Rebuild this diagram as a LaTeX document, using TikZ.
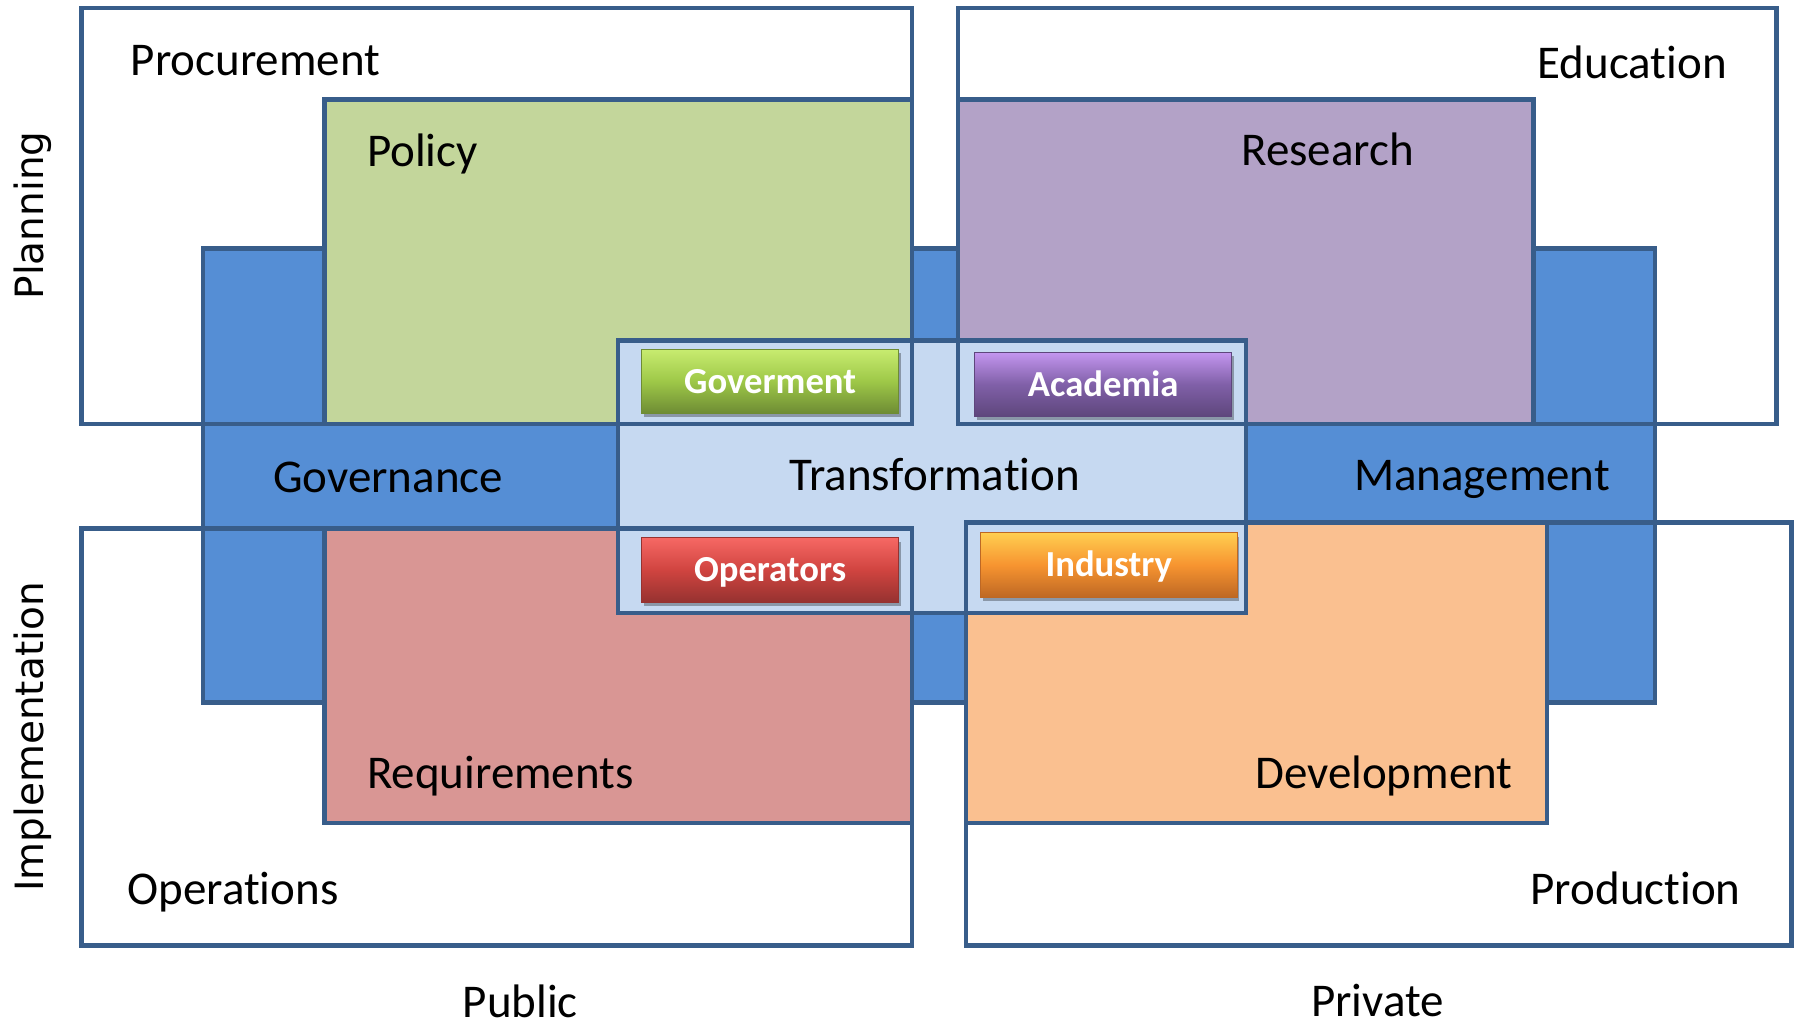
\documentclass[tikz,border=0pt]{standalone}
\usepackage{fontspec}
\setmainfont{Carlito}[Ligatures=NoCommon]
\newfontfamily\axisfont{DejaVu Sans}
\usepackage{tikz}

\definecolor{edgeblue}{RGB}{56,93,138}
\definecolor{bandblue}{RGB}{85,142,213}
\definecolor{paleblue}{RGB}{198,217,241}
\definecolor{policygreen}{RGB}{195,214,155}
\definecolor{researchlilac}{RGB}{179,162,199}
\definecolor{reqpink}{RGB}{217,150,148}
\definecolor{devpeach}{RGB}{250,192,144}
\definecolor{govtop}{RGB}{200,236,112}
\definecolor{govmid}{RGB}{158,200,72}
\definecolor{govbot}{RGB}{110,140,52}
\definecolor{acatop}{RGB}{196,150,240}
\definecolor{acamid}{RGB}{128,96,168}
\definecolor{acabot}{RGB}{94,70,124}
\definecolor{optop}{RGB}{246,104,100}
\definecolor{opmid}{RGB}{208,68,64}
\definecolor{opbot}{RGB}{150,50,48}
\definecolor{indtop}{RGB}{255,206,80}
\definecolor{indmid}{RGB}{247,148,48}
\definecolor{indbot}{RGB}{190,104,36}

\tikzset{
  quadlbl/.style={font=\fontsize{30.75}{36}\selectfont, inner sep=0pt},
  axislbl/.style={font=\axisfont\fontsize{25.5}{30}\selectfont, inner sep=0pt, rotate=90, anchor=base},
  actorbtn/.style={minimum width=168pt, minimum height=42pt, inner sep=0pt, text height=15.5pt, text depth=0pt,
    text=white, font=\bfseries\fontsize{24}{28}\selectfont, line width=0.6pt,
    preaction={fill=black, opacity=0.3, transform canvas={xshift=1.5pt, yshift=-2.5pt}}},
}

\begin{document}
\begin{tikzpicture}[x=0.75pt,y=0.75pt,yscale=-1,xscale=1]
\useasboundingbox (0,0) rectangle (1568,895);

%Shape: Rectangle [band]
\draw [line width=2.9, draw=edgeblue, fill=bandblue] (177,217) -- (1444,217) -- (1444,613) -- (177,613) -- cycle ;
%Shape: Rectangle [policy]
\draw [line width=2.9, draw=edgeblue, fill=policygreen] (283,87) -- (796,87) -- (796,370) -- (283,370) -- cycle ;
%Shape: Rectangle [research]
\draw [line width=2.9, draw=edgeblue, fill=researchlilac] (836,87) -- (1338,87) -- (1338,370) -- (836,370) -- cycle ;
%Shape: Rectangle [requirements]
\draw [line width=2.9, draw=edgeblue, fill=reqpink] (283,461) -- (796,461) -- (796,718) -- (283,718) -- cycle ;
%Shape: Rectangle [development]
\draw [line width=2.9, draw=edgeblue, fill=devpeach] (843,456) -- (1350,456) -- (1350,718) -- (843,718) -- cycle ;
%Shape: Rectangle [transformation]
\draw [line width=2.9, draw=edgeblue, fill=paleblue] (539,297) -- (1087,297) -- (1087,535) -- (539,535) -- cycle ;

%Shape: Rectangle [procurement]
\draw [line width=2.9, draw=edgeblue] (71,7) -- (796,7) -- (796,370) -- (71,370) -- cycle ;
%Shape: Rectangle [education]
\draw [line width=2.9, draw=edgeblue] (836,7) -- (1550,7) -- (1550,370) -- (836,370) -- cycle ;
%Shape: Rectangle [operations]
\draw [line width=2.9, draw=edgeblue] (71,461) -- (796,461) -- (796,825) -- (71,825) -- cycle ;
%Shape: Rectangle [production]
\draw [line width=2.9, draw=edgeblue] (843,456) -- (1563,456) -- (1563,825) -- (843,825) -- cycle ;

%Buttons
\node [actorbtn, draw=govbot, top color=govtop, bottom color=govbot, middle color=govmid] (gov) at (672,332.6) {Goverment};
\node [actorbtn, draw=acabot, top color=acatop, bottom color=acabot, middle color=acamid] (aca) at (962.6,335.3) {Academia};
\node [actorbtn, draw=opbot, top color=optop, bottom color=opbot, middle color=opmid] (ops) at (672,497.3) {Operators};
\node [actorbtn, draw=indbot, top color=indtop, bottom color=indbot, middle color=indmid] (ind) at (967.4,493) {Industry};

%Labels
\node [quadlbl, anchor=base west] (procurement) at (114,66) {Procurement};
\node [quadlbl, anchor=base east] (education) at (1507,68.4) {Education};
\node [quadlbl, anchor=base west] (policy) at (320,145.5) {Policy};
\node [quadlbl, anchor=base west] (research) at (1083,144.6) {Research};
\node [quadlbl, anchor=base west] (governance) at (238,430) {Governance};
\node [quadlbl, anchor=base west] (transformation) at (688.5,427.6) {Transformation};
\node [quadlbl, anchor=base east] (management) at (1405,427.6) {Management};
\node [quadlbl, anchor=base west] (requirements) at (320,688) {Requirements};
\node [quadlbl, anchor=base east] (development) at (1320,688) {Development};
\node [quadlbl, anchor=base west] (operations) at (111,789) {Operations};
\node [quadlbl, anchor=base east] (production) at (1519,789) {Production};
\node [quadlbl, anchor=base] (public) at (454,888) {Public};
\node [quadlbl, anchor=base] (private) at (1202,887) {Private};
\node [axislbl] (planning) at (38,188) {Planning};
\node [axislbl] (implementation) at (38,643) {Implementation};

\end{tikzpicture}
\end{document}
